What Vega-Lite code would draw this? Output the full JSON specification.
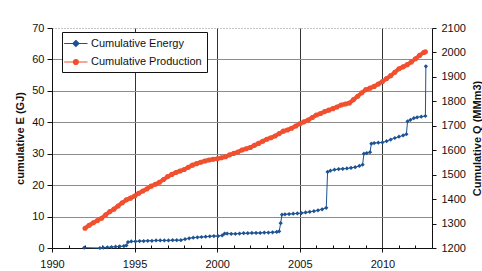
{
  "$schema": "https://vega.github.io/schema/vega-lite/v6.json",
  "width": 380,
  "height": 220,
  "autosize": "none",
  "padding": {"left": 52, "top": 28, "right": 50, "bottom": 23},
  "background": "white",
  "config": {
    "view": {"stroke": null},
    "font": "Liberation Sans",
    "axis": {"labelFont": "Liberation Sans", "labelFontSize": 11, "labelColor": "#111", "titleFont": "Liberation Sans", "titleFontSize": 11, "titleFontWeight": "bold", "titleColor": "#111", "domainColor": "#111", "tickColor": "#111"}
  },
  "datasets": {
    "energy": [
      {"year": 1991.95, "E": 0.1}, {"year": 1992.9, "E": 0.0}, {"year": 1993.1, "E": 0.1}, {"year": 1993.35, "E": 0.2},
      {"year": 1993.6, "E": 0.3}, {"year": 1993.85, "E": 0.4}, {"year": 1994.1, "E": 0.5}, {"year": 1994.35, "E": 0.6},
      {"year": 1994.5, "E": 0.8}, {"year": 1994.6, "E": 1.9}, {"year": 1994.8, "E": 2.1}, {"year": 1995.05, "E": 2.1},
      {"year": 1995.3, "E": 2.2}, {"year": 1995.55, "E": 2.2}, {"year": 1995.8, "E": 2.3}, {"year": 1996.05, "E": 2.3},
      {"year": 1996.3, "E": 2.4}, {"year": 1996.55, "E": 2.4}, {"year": 1996.8, "E": 2.4}, {"year": 1997.05, "E": 2.4},
      {"year": 1997.3, "E": 2.5}, {"year": 1997.55, "E": 2.5}, {"year": 1997.8, "E": 2.5}, {"year": 1998.05, "E": 2.8},
      {"year": 1998.3, "E": 3.1}, {"year": 1998.55, "E": 3.3}, {"year": 1998.8, "E": 3.4}, {"year": 1999.05, "E": 3.5},
      {"year": 1999.3, "E": 3.6}, {"year": 1999.55, "E": 3.7}, {"year": 1999.8, "E": 3.8}, {"year": 2000.05, "E": 3.8},
      {"year": 2000.3, "E": 4.0}, {"year": 2000.45, "E": 4.6}, {"year": 2000.6, "E": 4.6}, {"year": 2000.85, "E": 4.5},
      {"year": 2001.1, "E": 4.5}, {"year": 2001.35, "E": 4.6}, {"year": 2001.6, "E": 4.7}, {"year": 2001.85, "E": 4.7},
      {"year": 2002.1, "E": 4.8}, {"year": 2002.35, "E": 4.8}, {"year": 2002.6, "E": 4.8}, {"year": 2002.85, "E": 4.9},
      {"year": 2003.1, "E": 4.9}, {"year": 2003.35, "E": 5.0}, {"year": 2003.6, "E": 5.1}, {"year": 2003.75, "E": 5.3},
      {"year": 2003.84, "E": 7.9}, {"year": 2003.92, "E": 10.6}, {"year": 2004.1, "E": 10.7}, {"year": 2004.35, "E": 10.8},
      {"year": 2004.6, "E": 10.9}, {"year": 2004.85, "E": 11.0}, {"year": 2005.1, "E": 11.1}, {"year": 2005.35, "E": 11.3},
      {"year": 2005.6, "E": 11.5}, {"year": 2005.85, "E": 11.7}, {"year": 2006.1, "E": 12.0}, {"year": 2006.35, "E": 12.3},
      {"year": 2006.6, "E": 12.8}, {"year": 2006.68, "E": 24.2}, {"year": 2006.85, "E": 24.6}, {"year": 2007.1, "E": 24.9},
      {"year": 2007.35, "E": 25.1}, {"year": 2007.6, "E": 25.2}, {"year": 2007.85, "E": 25.3}, {"year": 2008.1, "E": 25.5},
      {"year": 2008.35, "E": 25.7}, {"year": 2008.6, "E": 26.1}, {"year": 2008.8, "E": 26.5}, {"year": 2008.88, "E": 30.0},
      {"year": 2009.05, "E": 30.2}, {"year": 2009.25, "E": 30.5}, {"year": 2009.33, "E": 33.2}, {"year": 2009.5, "E": 33.4},
      {"year": 2009.75, "E": 33.5}, {"year": 2010.0, "E": 33.6}, {"year": 2010.25, "E": 34.0}, {"year": 2010.5, "E": 34.5},
      {"year": 2010.75, "E": 35.0}, {"year": 2011.0, "E": 35.4}, {"year": 2011.25, "E": 35.8}, {"year": 2011.45, "E": 36.2},
      {"year": 2011.52, "E": 40.3}, {"year": 2011.7, "E": 40.8}, {"year": 2011.9, "E": 41.3}, {"year": 2012.1, "E": 41.6},
      {"year": 2012.35, "E": 41.8}, {"year": 2012.6, "E": 42.0}, {"year": 2012.63, "E": 57.8}
    ],
    "production": [
      {"year": 1992.0, "Q": 1281}, {"year": 1992.25, "Q": 1293}, {"year": 1992.5, "Q": 1303}, {"year": 1992.75, "Q": 1312},
      {"year": 1993.0, "Q": 1322}, {"year": 1993.25, "Q": 1336}, {"year": 1993.5, "Q": 1349}, {"year": 1993.75, "Q": 1359},
      {"year": 1994.0, "Q": 1372}, {"year": 1994.25, "Q": 1385}, {"year": 1994.5, "Q": 1397}, {"year": 1994.75, "Q": 1404},
      {"year": 1995.0, "Q": 1413}, {"year": 1995.25, "Q": 1424}, {"year": 1995.5, "Q": 1433}, {"year": 1995.75, "Q": 1442},
      {"year": 1996.0, "Q": 1453}, {"year": 1996.25, "Q": 1461}, {"year": 1996.5, "Q": 1469}, {"year": 1996.75, "Q": 1480},
      {"year": 1997.0, "Q": 1492}, {"year": 1997.25, "Q": 1501}, {"year": 1997.5, "Q": 1509}, {"year": 1997.75, "Q": 1515},
      {"year": 1998.0, "Q": 1521}, {"year": 1998.25, "Q": 1530}, {"year": 1998.5, "Q": 1539}, {"year": 1998.75, "Q": 1545},
      {"year": 1999.0, "Q": 1551}, {"year": 1999.25, "Q": 1556}, {"year": 1999.5, "Q": 1560}, {"year": 1999.75, "Q": 1563},
      {"year": 2000.0, "Q": 1565}, {"year": 2000.25, "Q": 1569}, {"year": 2000.5, "Q": 1573}, {"year": 2000.75, "Q": 1581},
      {"year": 2001.0, "Q": 1587}, {"year": 2001.25, "Q": 1593}, {"year": 2001.5, "Q": 1601}, {"year": 2001.75, "Q": 1606},
      {"year": 2002.0, "Q": 1611}, {"year": 2002.25, "Q": 1620}, {"year": 2002.5, "Q": 1628}, {"year": 2002.75, "Q": 1637},
      {"year": 2003.0, "Q": 1645}, {"year": 2003.25, "Q": 1651}, {"year": 2003.5, "Q": 1658}, {"year": 2003.75, "Q": 1668},
      {"year": 2004.0, "Q": 1678}, {"year": 2004.25, "Q": 1683}, {"year": 2004.5, "Q": 1690}, {"year": 2004.75, "Q": 1699},
      {"year": 2005.0, "Q": 1708}, {"year": 2005.25, "Q": 1716}, {"year": 2005.5, "Q": 1723}, {"year": 2005.75, "Q": 1734},
      {"year": 2006.0, "Q": 1744}, {"year": 2006.25, "Q": 1750}, {"year": 2006.5, "Q": 1758}, {"year": 2006.75, "Q": 1764},
      {"year": 2007.0, "Q": 1770}, {"year": 2007.25, "Q": 1777}, {"year": 2007.5, "Q": 1785}, {"year": 2007.75, "Q": 1789},
      {"year": 2008.0, "Q": 1793}, {"year": 2008.25, "Q": 1807}, {"year": 2008.5, "Q": 1821}, {"year": 2008.75, "Q": 1835},
      {"year": 2009.0, "Q": 1848}, {"year": 2009.25, "Q": 1854}, {"year": 2009.5, "Q": 1861}, {"year": 2009.75, "Q": 1871},
      {"year": 2010.0, "Q": 1881}, {"year": 2010.25, "Q": 1893}, {"year": 2010.5, "Q": 1905}, {"year": 2010.75, "Q": 1919},
      {"year": 2011.0, "Q": 1933}, {"year": 2011.25, "Q": 1941}, {"year": 2011.5, "Q": 1950}, {"year": 2011.75, "Q": 1961},
      {"year": 2012.0, "Q": 1974}, {"year": 2012.25, "Q": 1988}, {"year": 2012.5, "Q": 2000}, {"year": 2012.6, "Q": 2003}
    ]
  },
  "encoding": {
    "x": {
      "field": "year", "type": "quantitative",
      "scale": {"domain": [1990, 2013], "nice": false, "zero": false},
      "axis": {
        "title": null,
        "values": [1990,1991,1992,1993,1994,1995,1996,1997,1998,1999,2000,2001,2002,2003,2004,2005,2006,2007,2008,2009,2010,2011,2012,2013],
        "labelExpr": "datum.value % 5 === 0 ? '' + datum.value : ''",
        "labelOverlap": false,
        "labelFlush": false,
        "labelPadding": 6,
        "grid": true,
        "gridColor": "#333",
        "gridOpacity": {"condition": {"test": "datum.value % 5 === 0 && datum.value > 1990", "value": 1}, "value": 0},
        "tickSize": {"condition": {"test": "datum.value % 5 === 0", "value": 4}, "value": -3},
        "domainColor": "#111"
      }
    }
  },
  "layer": [
    {
      "data": {"name": "energy"},
      "encoding": {
        "y": {
          "field": "E", "type": "quantitative",
          "scale": {"domain": [0, 70], "nice": false},
          "axis": {
            "title": "cumulative E (GJ)",
            "values": [0,10,20,30,40,50,60,70],
            "tickSize": 5,
            "labelPadding": 3,
            "titlePadding": 6,
            "grid": true,
            "gridColor": "#8c8c8c",
            "gridDash": {"condition": {"test": "datum.value === 70", "value": [1, 2]}, "value": []}
          }
        },
        "color": {
          "datum": "Cumulative Energy",
          "type": "nominal",
          "scale": {"domain": ["Cumulative Energy", "Cumulative Production"], "range": ["#1d5392", "#f0502f"]},
          "legend": {
            "title": null,
            "orient": "none",
            "legendX": 10,
            "legendY": 4,
            "strokeColor": "#111",
            "fillColor": "white",
            "padding": 5,
            "rowPadding": 6.5,
            "labelFont": "Liberation Sans",
            "labelFontSize": 11,
            "labelColor": "#111",
            "labelOffset": 11,
            "symbolSize": 121,
            "symbolStrokeWidth": 1.2,
            "symbolType": "M-1.7,0H2.55M0.43,-0.55L0.98,0L0.43,0.55L-0.12,0Z",
            "encode": {
              "symbols": {
                "update": {
                  "shape": {"signal": "datum.value === 'Cumulative Energy' ? 'M-1.7,0H2.55M0.43,-0.55L0.98,0L0.43,0.55L-0.12,0Z' : 'M-1.7,0H2.55M0.88,0A0.45,0.45 0 1,1 -0.02,0A0.45,0.45 0 1,1 0.88,0Z'"},
                  "fill": {"signal": "datum.value === 'Cumulative Energy' ? '#1d5392' : '#f0502f'"},
                  "stroke": {"signal": "datum.value === 'Cumulative Energy' ? '#1d5392' : '#f0502f'"},
                  "opacity": {"value": 1}
                }
              }
            }
          }
        }
      },
      "layer": [
        {"mark": {"type": "line", "strokeWidth": 1, "interpolate": "linear"}},
        {"mark": {"type": "point", "shape": "diamond", "filled": true, "size": 18, "opacity": 1}}
      ]
    },
    {
      "data": {"name": "production"},
      "encoding": {
        "y": {
          "field": "Q", "type": "quantitative",
          "scale": {"domain": [1200, 2100], "nice": false, "zero": false},
          "axis": {
            "orient": "right",
            "title": "Cumulative Q (MMm3)",
            "titleAngle": 270,
            "titleBaseline": "top",
            "format": "d",
            "values": [1200,1300,1400,1500,1600,1700,1800,1900,2000,2100],
            "tickSize": 4,
            "labelPadding": 5,
            "titlePadding": 6,
            "grid": false
          }
        },
        "color": {"datum": "Cumulative Production", "type": "nominal"}
      },
      "layer": [
        {"mark": {"type": "line", "strokeWidth": 4}},
        {"mark": {"type": "point", "shape": "circle", "filled": true, "size": 26, "opacity": 1}}
      ]
    }
  ],
  "resolve": {"scale": {"y": "independent"}}
}
